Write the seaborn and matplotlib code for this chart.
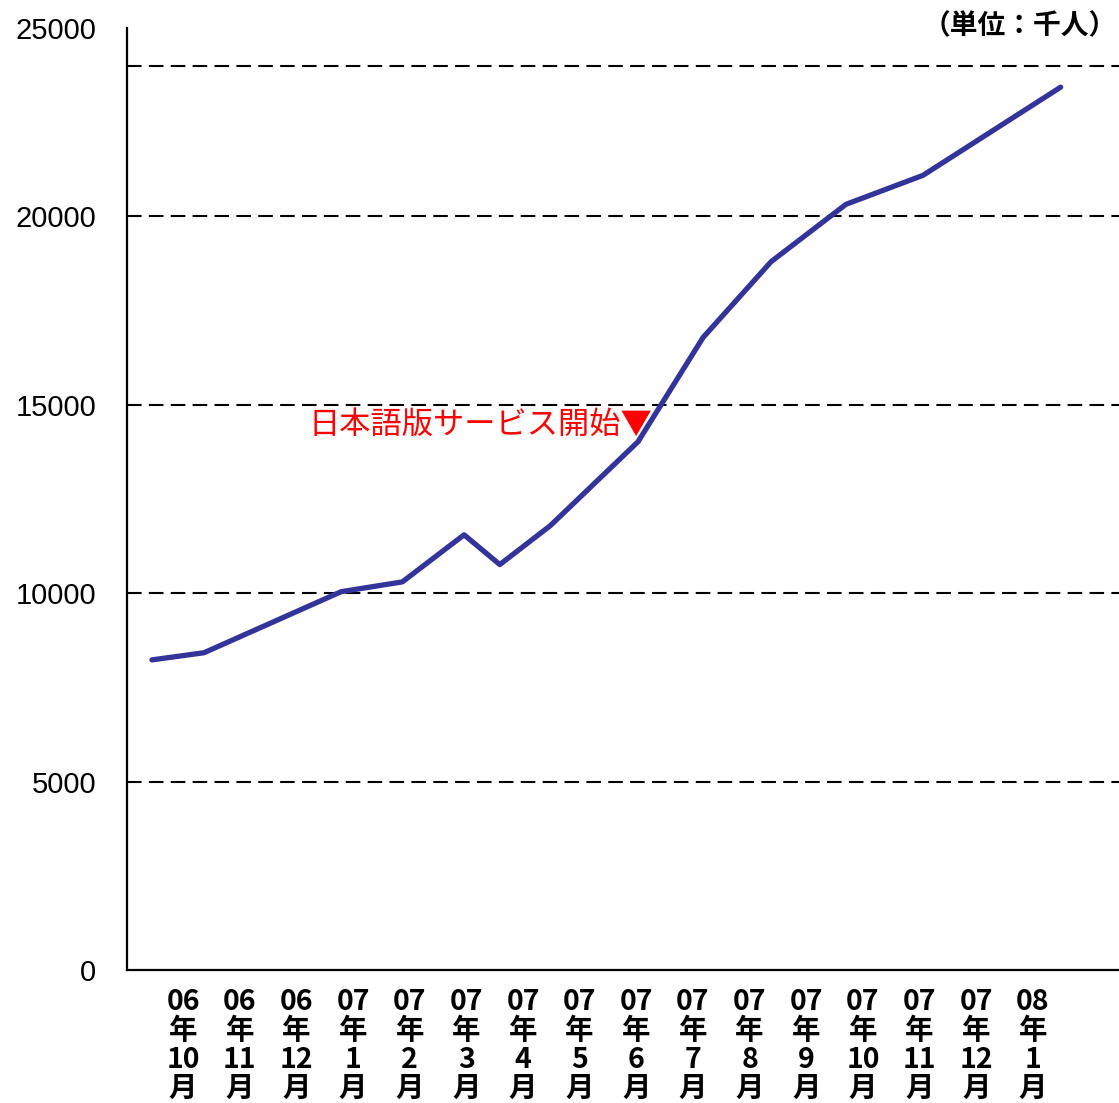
import matplotlib
matplotlib.use("Agg")
import matplotlib.pyplot as plt
import seaborn as sns
import pandas as pd

# === DATA ===
# x = position in months (0 = 06年10月 label), y = users (thousand)
month_pos = [-0.55, 0.37, 2.79, 3.87, 4.96, 5.59, 6.48, 8.03, 9.18, 10.38, 11.70, 13.06, 15.49]
users = [8230, 8420, 10040, 10300, 11550, 10760, 11790, 14020, 16790, 18800, 20320, 21090, 23430]

month_labels = [
    "06\n年\n10\n月", "06\n年\n11\n月", "06\n年\n12\n月",
    "07\n年\n1\n月", "07\n年\n2\n月", "07\n年\n3\n月", "07\n年\n4\n月",
    "07\n年\n5\n月", "07\n年\n6\n月", "07\n年\n7\n月", "07\n年\n8\n月",
    "07\n年\n9\n月", "07\n年\n10\n月", "07\n年\n11\n月", "07\n年\n12\n月",
    "08\n年\n1\n月",
]
y_ticks = [0, 5000, 10000, 15000, 20000, 25000]
grid_levels = [5000, 10000, 15000, 20000, 24000]
launch_idx = 7  # 日本語版サービス開始 (07年6月)

df = pd.DataFrame({"month": month_pos, "users": users})

# === STYLE ===
sns.set_style("white")
plt.rcParams["font.family"] = ["Liberation Sans", "Noto Sans CJK JP"]
plt.rcParams["text.color"] = "black"
plt.rcParams["xtick.color"] = "black"
plt.rcParams["ytick.color"] = "black"
cjk = ["Noto Sans CJK JP", "DejaVu Sans"]

fig = plt.figure(figsize=(11.19, 11.03), dpi=100)
ax = fig.add_axes([0.1135, 0.1206, 0.8865, 0.854])

# dashed grid lines
for g in grid_levels:
    ax.axhline(g, color="black", lw=1.5, linestyle=(0, (7, 3.5)), zorder=1)

sns.lineplot(data=df, x="month", y="users", color="#333399", lw=3.8, ax=ax, zorder=3)

ax.set_xlim(-0.99, 16.52)
ax.set_ylim(0, 25000)
ax.set_yticks(y_ticks)
ax.set_yticklabels([str(v) for v in y_ticks], fontsize=21, color="black")
ax.set_xticks(range(len(month_labels)))
ax.set_xticklabels(month_labels, fontsize=20.5, fontweight="bold", family=cjk,
                   linespacing=1.05, color="black")
ax.tick_params(axis="y", length=0, pad=22)
ax.tick_params(axis="x", length=0, pad=13)
ax.set_xlabel("")
ax.set_ylabel("")

for side in ["top", "right"]:
    ax.spines[side].set_visible(False)
for side in ["left", "bottom"]:
    ax.spines[side].set_color("black")
    ax.spines[side].set_linewidth(1.6)

# annotation for Japanese launch
ax.annotate("日本語版サービス開始▼", xy=(month_pos[launch_idx], users[launch_idx]),
            xytext=(10, 12), textcoords="offset points", ha="right", va="center",
            fontsize=22.5, color="red", family=cjk)

# unit label
fig.text(0.998, 0.976, "（単位：千人）", ha="right", va="center",
         fontsize=20, fontweight="bold", family=cjk, color="black")

plt.savefig("out.png", dpi=100)
plt.close()
